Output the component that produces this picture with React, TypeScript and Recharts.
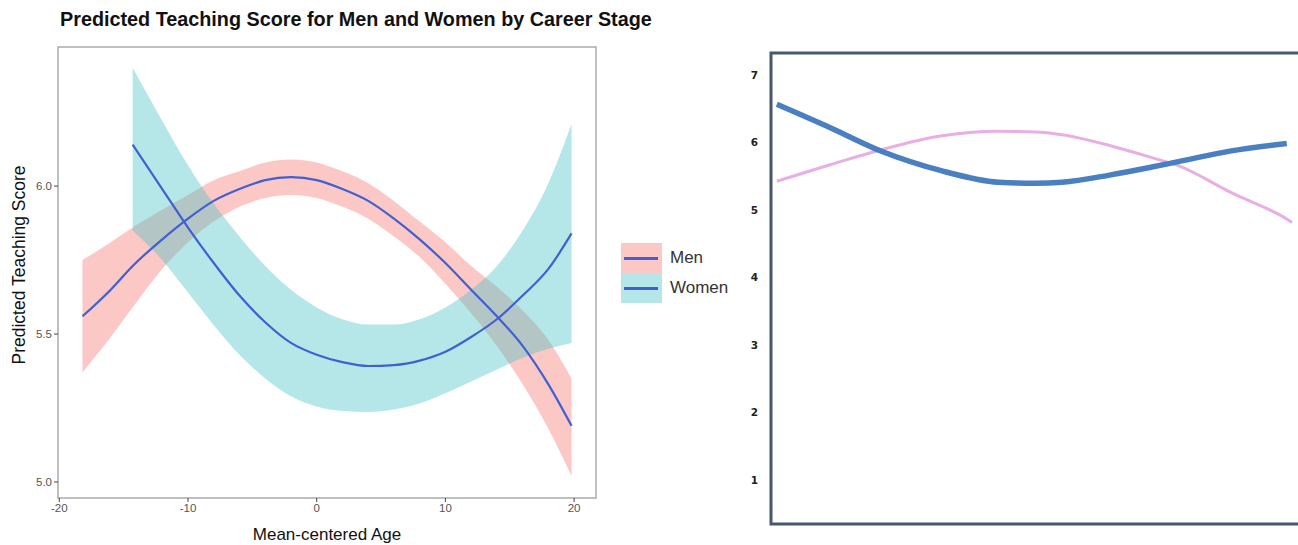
import React from "react";
import {
  ComposedChart,
  Area,
  Line,
  XAxis,
  YAxis,
  ReferenceArea,
} from "recharts";

// ---------- Left chart data (ggplot style) ----------
const ages = [-18.2, -16, -14.3, -12, -10, -8, -6, -4, -2, 0, 2, 4, 6, 8, 10, 12, 14, 16, 18, 19.8];
const menFit = [5.56, 5.65, 5.73, 5.82, 5.89, 5.95, 5.99, 6.02, 6.03, 6.02, 5.99, 5.95, 5.89, 5.82, 5.74, 5.65, 5.56, 5.46, 5.33, 5.19];
const menLow = [5.37, 5.49, 5.59, 5.72, 5.81, 5.88, 5.93, 5.96, 5.97, 5.96, 5.93, 5.89, 5.83, 5.76, 5.67, 5.57, 5.46, 5.33, 5.18, 5.02];
const menHigh = [5.75, 5.81, 5.86, 5.92, 5.97, 6.02, 6.05, 6.08, 6.09, 6.08, 6.05, 6.01, 5.95, 5.88, 5.81, 5.73, 5.66, 5.58, 5.48, 5.35];
const womenFit = [null, null, 6.14, 5.99, 5.86, 5.74, 5.63, 5.54, 5.47, 5.43, 5.405, 5.392, 5.395, 5.41, 5.44, 5.49, 5.55, 5.63, 5.72, 5.84];
const womenLow = [null, null, 5.85, 5.75, 5.64, 5.53, 5.43, 5.35, 5.29, 5.255, 5.24, 5.237, 5.245, 5.265, 5.3, 5.34, 5.38, 5.42, 5.45, 5.47];
const womenHigh = [null, null, 6.4, 6.22, 6.07, 5.94, 5.83, 5.73, 5.65, 5.59, 5.55, 5.532, 5.532, 5.55, 5.59, 5.65, 5.73, 5.85, 6.01, 6.21];
const leftXTicks = [-20, -10, 0, 10, 20];
const leftYTicks = [5.0, 5.5, 6.0];
const legendLabels = ["Men", "Women"];

// ---------- Right chart data ----------
const rightX = [1.1, 11, 21, 32, 43, 50, 55, 64, 72, 77, 87, 97.5, 98.5];
const rightBlue = [6.57, 6.23, 5.87, 5.59, 5.415, 5.4, 5.415, 5.52, 5.64, 5.72, 5.88, 5.99, null];
const rightPink = [5.43, 5.67, 5.9, 6.1, 6.17, 6.16, 6.12, 5.96, 5.78, 5.66, 5.26, 4.87, 4.82];
const rightYTicks = [1, 2, 3, 4, 5, 6, 7];

const leftData = ages.map((a, i) => ({
  age: a,
  menFit: menFit[i],
  menBand: [menLow[i], menHigh[i]],
  womenFit: womenFit[i],
  womenBand: womenLow[i] == null ? null : [womenLow[i], womenHigh[i]],
}));

const rightData = rightX.map((x, i) => ({
  x,
  blue: rightBlue[i],
  pink: rightPink[i],
}));

const FONT = "'Liberation Sans', Arial, Helvetica, sans-serif";
const MEN_FILL = "#F8766D";
const WOMEN_FILL = "#3DBFC2";
const LINE = "#4060d2";
const fills = [
  { fill: MEN_FILL, op: 0.4 },
  { fill: WOMEN_FILL, op: 0.38 },
];

const LegendBox = () => (
  <div
    style={{
      position: "absolute",
      left: 621,
      top: 243,
      fontFamily: FONT,
      fontSize: 17,
      color: "#333",
    }}
  >
    {legendLabels.map((label, i) => (
      <div key={label} style={{ display: "flex", alignItems: "center", height: 30 }}>
        <div style={{ position: "relative", width: 41, height: 30 }}>
          <div style={{ position: "absolute", inset: 0, background: fills[i].fill, opacity: fills[i].op }} />
          <div
            style={{
              position: "absolute",
              left: 3,
              right: 4,
              top: 13.5,
              height: 3,
              background: LINE,
            }}
          />
        </div>
        <span style={{ marginLeft: 8 }}>{label}</span>
      </div>
    ))}
  </div>
);

const YLabel = () => (
  <text
    x={19}
    y={265}
    transform="rotate(-90 19 265)"
    textAnchor="middle"
    dominantBaseline="central"
    style={{ fontFamily: FONT, fontSize: 17.5, fill: "#111" }}
  >
    Predicted Teaching Score
  </text>
);

export default function App() {
  return (
    <div
      style={{
        position: "absolute",
        left: 0,
        top: 0,
        width: 1298,
        height: 545,
        overflow: "hidden",
        background: "#fff",
      }}
    >
      <div
        style={{
          position: "absolute",
          left: 60,
          top: 8,
          fontFamily: FONT,
          fontWeight: "bold",
          fontSize: 19.8,
          color: "#111",
          whiteSpace: "nowrap",
        }}
      >
        Predicted Teaching Score for Men and Women by Career Stage
      </div>

      <div style={{ position: "absolute", left: 0, top: 0 }}>
        <ComposedChart
          width={740}
          height={545}
          data={leftData}
          margin={{ top: 47, right: 144, bottom: 0, left: 0 }}
        >
          <XAxis
            dataKey="age"
            type="number"
            domain={[-20.1, 21.7]}
            ticks={leftXTicks}
            allowDataOverflow
            height={47}
            axisLine={false}
            tickLine={{ stroke: "#444" }}
            tickSize={4}
            tick={{ fontFamily: FONT, fontSize: 11.5, fill: "#555" }}
            label={{
              value: "Mean-centered Age",
              position: "insideBottom",
              offset: 5,
              style: { fontFamily: FONT, fontSize: 17, fill: "#111" },
            }}
          />
          <YAxis
            type="number"
            domain={[4.946, 6.47]}
            ticks={leftYTicks}
            allowDataOverflow
            width={58}
            axisLine={false}
            tickLine={{ stroke: "#444" }}
            tickSize={4}
            tickFormatter={(v: number) => v.toFixed(1)}
            tick={{ fontFamily: FONT, fontSize: 11.5, fill: "#555" }}
            label={<YLabel />}
          />
          <ReferenceArea
            x1={-20.1}
            x2={21.7}
            y1={4.946}
            y2={6.47}
            fill="none"
            stroke="#aaaaaa"
            strokeWidth={1.5}
            ifOverflow="visible"
          />
          <Area
            dataKey="menBand"
            type="monotone"
            stroke="none"
            fill={MEN_FILL}
            fillOpacity={0.4}
            isAnimationActive={false}
            legendType="none"
            activeDot={false}
          />
          <Area
            dataKey="womenBand"
            type="monotone"
            stroke="none"
            fill={WOMEN_FILL}
            fillOpacity={0.38}
            isAnimationActive={false}
            legendType="none"
            activeDot={false}
          />
          <Line
            dataKey="menFit"
            name="Men"
            type="monotone"
            stroke={LINE}
            strokeWidth={2.2}
            dot={false}
            isAnimationActive={false}
          />
          <Line
            dataKey="womenFit"
            name="Women"
            type="monotone"
            stroke={LINE}
            strokeWidth={2.2}
            dot={false}
            isAnimationActive={false}
          />
        </ComposedChart>
      </div>
      <LegendBox />

      <div style={{ position: "absolute", left: 700, top: 0 }}>
        <ComposedChart
          width={600}
          height={545}
          data={rightData}
          margin={{ top: 53, right: 0, bottom: 21, left: 0 }}
        >
          <XAxis dataKey="x" type="number" domain={[0, 100]} hide />
          <YAxis
            type="number"
            domain={[0.35, 7.33]}
            ticks={rightYTicks}
            allowDataOverflow
            width={71}
            axisLine={false}
            tickLine={false}
            tickSize={3}
            tickMargin={10}
            tick={{ fontFamily: "'DejaVu Sans', sans-serif", fontSize: 10.5, fontWeight: "bold", fill: "#222" }}
          />
          <ReferenceArea
            x1={0}
            x2={100}
            y1={0.35}
            y2={7.33}
            fill="none"
            stroke="#46596c"
            strokeWidth={3}
            ifOverflow="visible"
          />
          <Line
            dataKey="pink"
            type="monotone"
            stroke="#e9aee3"
            strokeWidth={3}
            dot={false}
            isAnimationActive={false}
          />
          <Line
            dataKey="blue"
            type="monotone"
            stroke="#4a7fc1"
            strokeWidth={5.5}
            dot={false}
            isAnimationActive={false}
          />
        </ComposedChart>
      </div>
    </div>
  );
}
